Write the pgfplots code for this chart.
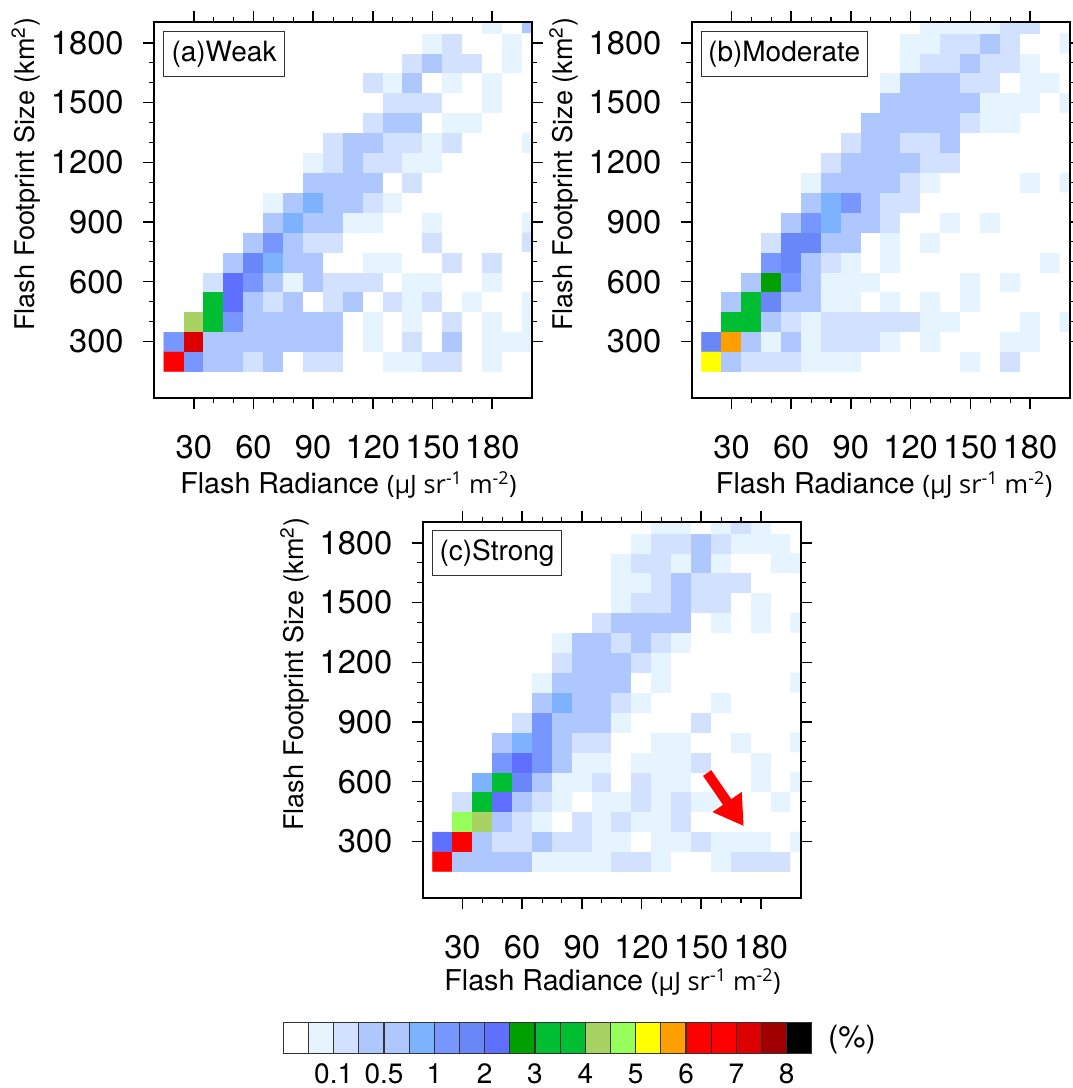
\documentclass[border=0pt]{standalone}
\usepackage{pgfplots}
\pgfplotsset{compat=1.18}
\usepackage{fontspec}
\setmainfont{TeX Gyre Heros}
\newfontfamily\unitfont{Open Sans}
\usetikzlibrary{arrows.meta}
\pgfplotsset{
  ncl/.style={
    scale only axis, width=283.5pt, height=282pt, axis on top,
    xmin=10, xmax=200, ymin=16, ymax=1905,
    xtick={30,60,...,180}, ytick={300,600,...,1800},
    minor x tick num=2, minor y tick num=2,
    tick align=outside, tick pos=both,
    major tick length=8.25pt, minor tick length=4pt,
    axis line style={line width=1.3pt},
    every tick/.append style={line width=1.1pt, black},
    every minor tick/.append style={line width=0.8pt, black},
    /pgf/number format/assume math mode=true,
    /pgf/number format/1000 sep={},
    tick label style={font=\fontsize{24.5}{27}\selectfont},
    xticklabel style={yshift=-16pt},
    yticklabel style={xshift=-11pt},
    xlabel={\fontsize{21.5}{24}\selectfont Flash Radiance {\unitfont\fontsize{19}{24}\selectfont(µJ sr\textsuperscript{-1} m\textsuperscript{-2})}},
    ylabel={\fontsize{20.3}{24}\selectfont Flash Footprint Size (km\textsuperscript{2})},
    every axis y label/.style={at={(axis description cs:-0.315,0.595)}, anchor=base, rotate=90},
    colormap={ncl}{rgb255=(255,255,255) rgb255=(230,244,255) rgb255=(210,225,255) rgb255=(174,200,255) rgb255=(174,200,255) rgb255=(125,178,255) rgb255=(120,150,255) rgb255=(106,135,248) rgb255=(95,111,255) rgb255=(0,160,0) rgb255=(0,190,50) rgb255=(0,190,50) rgb255=(168,210,100) rgb255=(150,255,90) rgb255=(255,255,0) rgb255=(255,160,0) rgb255=(255,0,0) rgb255=(255,0,0) rgb255=(220,0,0) rgb255=(160,0,0) rgb255=(0,0,0)},
    colormap access=direct,
  },
  xl/.style 2 args={every axis x label/.style={at={(axis description cs:#1,#2)}, anchor=base}},
  cellplot/.style={matrix plot*, mesh/cols=19, point meta=explicit, forget plot},
}
\definecolor{c0}{RGB}{255,255,255}\definecolor{c1}{RGB}{230,244,255}\definecolor{c2}{RGB}{210,225,255}\definecolor{c3}{RGB}{174,200,255}\definecolor{c4}{RGB}{174,200,255}\definecolor{c5}{RGB}{125,178,255}\definecolor{c6}{RGB}{120,150,255}\definecolor{c7}{RGB}{106,135,248}\definecolor{c8}{RGB}{95,111,255}\definecolor{c9}{RGB}{0,160,0}\definecolor{c10}{RGB}{0,190,50}\definecolor{c11}{RGB}{0,190,50}\definecolor{c12}{RGB}{168,210,100}\definecolor{c13}{RGB}{150,255,90}\definecolor{c14}{RGB}{255,255,0}\definecolor{c15}{RGB}{255,160,0}\definecolor{c16}{RGB}{255,0,0}\definecolor{c17}{RGB}{255,0,0}\definecolor{c18}{RGB}{220,0,0}\definecolor{c19}{RGB}{160,0,0}\definecolor{c20}{RGB}{0,0,0}
\begin{document}
\begin{tikzpicture}
\path[use as bounding box] (0pt,0pt) rectangle (804pt,816pt);
% ---------- (a)
\begin{axis}[ncl, xl={0.5146}{-0.2527}, at={(115.5pt,517.5pt)}, anchor=south west]
\addplot[cellplot] coordinates {
(20,200)[16](30,200)[6](40,200)[3](50,200)[3](60,200)[2](70,200)[3](80,200)[0](90,200)[2](100,200)[2](110,200)[0](120,200)[0](130,200)[1](140,200)[1](150,200)[2](160,200)[2](170,200)[0](180,200)[1](190,200)[0](200,200)[0]
(20,300)[6](30,300)[18](40,300)[3](50,300)[3](60,300)[3](70,300)[3](80,300)[3](90,300)[3](100,300)[3](110,300)[0](120,300)[1](130,300)[0](140,300)[2](150,300)[0](160,300)[3](170,300)[0](180,300)[1](190,300)[1](200,300)[1]
(20,400)[0](30,400)[12](40,400)[10](50,400)[6](60,400)[3](70,400)[3](80,400)[3](90,400)[3](100,400)[3](110,400)[0](120,400)[1](130,400)[0](140,400)[1](150,400)[0](160,400)[2](170,400)[0](180,400)[1](190,400)[0](200,400)[1]
(20,500)[0](30,500)[0](40,500)[10](50,500)[8](60,500)[3](70,500)[2](80,500)[3](90,500)[0](100,500)[2](110,500)[3](120,500)[0](130,500)[2](140,500)[1](150,500)[2](160,500)[0](170,500)[1](180,500)[0](190,500)[0](200,500)[1]
(20,600)[0](30,600)[0](40,600)[2](50,600)[8](60,600)[6](70,600)[3](80,600)[1](90,600)[3](100,600)[2](110,600)[2](120,600)[2](130,600)[0](140,600)[1](150,600)[1](160,600)[0](170,600)[0](180,600)[1](190,600)[0](200,600)[0]
(20,700)[0](30,700)[0](40,700)[0](50,700)[3](60,700)[7](70,700)[5](80,700)[3](90,700)[3](100,700)[0](110,700)[0](120,700)[1](130,700)[1](140,700)[0](150,700)[0](160,700)[2](170,700)[0](180,700)[2](190,700)[0](200,700)[0]
(20,800)[0](30,800)[0](40,800)[0](50,800)[0](60,800)[3](70,800)[6](80,800)[3](90,800)[2](100,800)[2](110,800)[0](120,800)[0](130,800)[0](140,800)[0](150,800)[2](160,800)[0](170,800)[0](180,800)[0](190,800)[0](200,800)[2]
(20,900)[0](30,900)[0](40,900)[0](50,900)[0](60,900)[0](70,900)[3](80,900)[5](90,900)[3](100,900)[3](110,900)[1](120,900)[1](130,900)[0](140,900)[0](150,900)[1](160,900)[0](170,900)[0](180,900)[0](190,900)[0](200,900)[1]
(20,1000)[0](30,1000)[0](40,1000)[0](50,1000)[0](60,1000)[0](70,1000)[1](80,1000)[3](90,1000)[5](100,1000)[3](110,1000)[3](120,1000)[2](130,1000)[1](140,1000)[0](150,1000)[0](160,1000)[0](170,1000)[0](180,1000)[0](190,1000)[0](200,1000)[0]
(20,1100)[0](30,1100)[0](40,1100)[0](50,1100)[0](60,1100)[0](70,1100)[0](80,1100)[0](90,1100)[3](100,1100)[3](110,1100)[3](120,1100)[3](130,1100)[0](140,1100)[2](150,1100)[0](160,1100)[0](170,1100)[0](180,1100)[0](190,1100)[0](200,1100)[0]
(20,1200)[0](30,1200)[0](40,1200)[0](50,1200)[0](60,1200)[0](70,1200)[0](80,1200)[0](90,1200)[1](100,1200)[2](110,1200)[3](120,1200)[2](130,1200)[2](140,1200)[1](150,1200)[1](160,1200)[0](170,1200)[0](180,1200)[0](190,1200)[0](200,1200)[0]
(20,1300)[0](30,1300)[0](40,1300)[0](50,1300)[0](60,1300)[0](70,1300)[0](80,1300)[0](90,1300)[0](100,1300)[2](110,1300)[3](120,1300)[3](130,1300)[2](140,1300)[2](150,1300)[1](160,1300)[2](170,1300)[0](180,1300)[0](190,1300)[0](200,1300)[1]
(20,1400)[0](30,1400)[0](40,1400)[0](50,1400)[0](60,1400)[0](70,1400)[0](80,1400)[0](90,1400)[0](100,1400)[0](110,1400)[0](120,1400)[2](130,1400)[3](140,1400)[3](150,1400)[0](160,1400)[1](170,1400)[1](180,1400)[0](190,1400)[0](200,1400)[0]
(20,1500)[0](30,1500)[0](40,1500)[0](50,1500)[0](60,1500)[0](70,1500)[0](80,1500)[0](90,1500)[0](100,1500)[0](110,1500)[0](120,1500)[0](130,1500)[2](140,1500)[2](150,1500)[2](160,1500)[0](170,1500)[0](180,1500)[1](190,1500)[0](200,1500)[0]
(20,1600)[0](30,1600)[0](40,1600)[0](50,1600)[0](60,1600)[0](70,1600)[0](80,1600)[0](90,1600)[0](100,1600)[0](110,1600)[0](120,1600)[2](130,1600)[1](140,1600)[3](150,1600)[0](160,1600)[1](170,1600)[0](180,1600)[1](190,1600)[0](200,1600)[0]
(20,1700)[0](30,1700)[0](40,1700)[0](50,1700)[0](60,1700)[0](70,1700)[0](80,1700)[0](90,1700)[0](100,1700)[0](110,1700)[0](120,1700)[0](130,1700)[0](140,1700)[2](150,1700)[3](160,1700)[2](170,1700)[2](180,1700)[0](190,1700)[1](200,1700)[0]
(20,1800)[0](30,1800)[0](40,1800)[0](50,1800)[0](60,1800)[0](70,1800)[0](80,1800)[0](90,1800)[0](100,1800)[0](110,1800)[0](120,1800)[0](130,1800)[0](140,1800)[0](150,1800)[1](160,1800)[2](170,1800)[0](180,1800)[0](190,1800)[1](200,1800)[0]
(20,1900)[0](30,1900)[0](40,1900)[0](50,1900)[0](60,1900)[0](70,1900)[0](80,1900)[0](90,1900)[0](100,1900)[0](110,1900)[0](120,1900)[0](130,1900)[0](140,1900)[0](150,1900)[0](160,1900)[0](170,1900)[0](180,1900)[1](190,1900)[0](200,1900)[3]
};
\end{axis}
% ---------- (b)
\begin{axis}[ncl, xl={0.509}{-0.2527}, at={(518.8pt,517.5pt)}, anchor=south west]
\addplot[cellplot] coordinates {
(20,200)[14](30,200)[3](40,200)[2](50,200)[2](60,200)[2](70,200)[1](80,200)[1](90,200)[1](100,200)[0](110,200)[0](120,200)[0](130,200)[0](140,200)[0](150,200)[1](160,200)[0](170,200)[2](180,200)[0](190,200)[0](200,200)[0]
(20,300)[7](30,300)[15](40,300)[3](50,300)[1](60,300)[3](70,300)[1](80,300)[2](90,300)[2](100,300)[2](110,300)[1](120,300)[0](130,300)[1](140,300)[0](150,300)[0](160,300)[0](170,300)[1](180,300)[1](190,300)[0](200,300)[0]
(20,400)[0](30,400)[10](40,400)[10](50,400)[3](60,400)[2](70,400)[1](80,400)[2](90,400)[2](100,400)[2](110,400)[2](120,400)[2](130,400)[1](140,400)[1](150,400)[0](160,400)[0](170,400)[0](180,400)[1](190,400)[0](200,400)[1]
(20,500)[0](30,500)[3](40,500)[10](50,500)[7](60,500)[3](70,500)[3](80,500)[1](90,500)[1](100,500)[0](110,500)[1](120,500)[0](130,500)[1](140,500)[0](150,500)[1](160,500)[0](170,500)[0](180,500)[0](190,500)[0](200,500)[0]
(20,600)[0](30,600)[0](40,600)[3](50,600)[9](60,600)[6](70,600)[3](80,600)[1](90,600)[1](100,600)[1](110,600)[0](120,600)[0](130,600)[0](140,600)[0](150,600)[1](160,600)[0](170,600)[1](180,600)[0](190,600)[0](200,600)[0]
(20,700)[0](30,700)[0](40,700)[0](50,700)[6](60,700)[7](70,700)[3](80,700)[2](90,700)[1](100,700)[0](110,700)[1](120,700)[0](130,700)[0](140,700)[0](150,700)[0](160,700)[0](170,700)[0](180,700)[0](190,700)[1](200,700)[0]
(20,800)[0](30,800)[0](40,800)[0](50,800)[2](60,800)[7](70,800)[7](80,800)[3](90,800)[3](100,800)[0](110,800)[1](120,800)[0](130,800)[1](140,800)[0](150,800)[0](160,800)[0](170,800)[0](180,800)[0](190,800)[0](200,800)[0]
(20,900)[0](30,900)[0](40,900)[0](50,900)[0](60,900)[3](70,900)[6](80,900)[5](90,900)[3](100,900)[3](110,900)[2](120,900)[0](130,900)[0](140,900)[1](150,900)[0](160,900)[1](170,900)[0](180,900)[0](190,900)[0](200,900)[0]
(20,1000)[0](30,1000)[0](40,1000)[0](50,1000)[0](60,1000)[0](70,1000)[3](80,1000)[5](90,1000)[6](100,1000)[3](110,1000)[2](120,1000)[2](130,1000)[0](140,1000)[0](150,1000)[0](160,1000)[0](170,1000)[0](180,1000)[0](190,1000)[0](200,1000)[0]
(20,1100)[0](30,1100)[0](40,1100)[0](50,1100)[0](60,1100)[0](70,1100)[1](80,1100)[3](90,1100)[3](100,1100)[3](110,1100)[3](120,1100)[2](130,1100)[1](140,1100)[0](150,1100)[0](160,1100)[0](170,1100)[0](180,1100)[1](190,1100)[0](200,1100)[1]
(20,1200)[0](30,1200)[0](40,1200)[0](50,1200)[0](60,1200)[0](70,1200)[0](80,1200)[2](90,1200)[3](100,1200)[3](110,1200)[3](120,1200)[3](130,1200)[2](140,1200)[2](150,1200)[0](160,1200)[0](170,1200)[0](180,1200)[0](190,1200)[0](200,1200)[0]
(20,1300)[0](30,1300)[0](40,1300)[0](50,1300)[0](60,1300)[0](70,1300)[0](80,1300)[0](90,1300)[2](100,1300)[3](110,1300)[3](120,1300)[2](130,1300)[2](140,1300)[3](150,1300)[0](160,1300)[0](170,1300)[0](180,1300)[0](190,1300)[0](200,1300)[0]
(20,1400)[0](30,1400)[0](40,1400)[0](50,1400)[0](60,1400)[0](70,1400)[0](80,1400)[0](90,1400)[0](100,1400)[3](110,1400)[3](120,1400)[3](130,1400)[3](140,1400)[3](150,1400)[2](160,1400)[1](170,1400)[1](180,1400)[0](190,1400)[0](200,1400)[0]
(20,1500)[0](30,1500)[0](40,1500)[0](50,1500)[0](60,1500)[0](70,1500)[0](80,1500)[0](90,1500)[0](100,1500)[0](110,1500)[3](120,1500)[3](130,1500)[3](140,1500)[3](150,1500)[3](160,1500)[1](170,1500)[1](180,1500)[1](190,1500)[0](200,1500)[1]
(20,1600)[0](30,1600)[0](40,1600)[0](50,1600)[0](60,1600)[0](70,1600)[0](80,1600)[0](90,1600)[0](100,1600)[0](110,1600)[1](120,1600)[3](130,1600)[3](140,1600)[3](150,1600)[2](160,1600)[2](170,1600)[0](180,1600)[1](190,1600)[1](200,1600)[0]
(20,1700)[0](30,1700)[0](40,1700)[0](50,1700)[0](60,1700)[0](70,1700)[0](80,1700)[0](90,1700)[0](100,1700)[0](110,1700)[0](120,1700)[1](130,1700)[2](140,1700)[2](150,1700)[3](160,1700)[2](170,1700)[2](180,1700)[1](190,1700)[0](200,1700)[0]
(20,1800)[0](30,1800)[0](40,1800)[0](50,1800)[0](60,1800)[0](70,1800)[0](80,1800)[0](90,1800)[0](100,1800)[0](110,1800)[0](120,1800)[1](130,1800)[1](140,1800)[2](150,1800)[2](160,1800)[3](170,1800)[2](180,1800)[0](190,1800)[0](200,1800)[1]
(20,1900)[0](30,1900)[0](40,1900)[0](50,1900)[0](60,1900)[0](70,1900)[0](80,1900)[0](90,1900)[0](100,1900)[0](110,1900)[0](120,1900)[0](130,1900)[1](140,1900)[1](150,1900)[1](160,1900)[1](170,1900)[2](180,1900)[2](190,1900)[0](200,1900)[0]
};
\end{axis}
% ---------- (c)
\begin{axis}[ncl, xl={0.5024}{-0.245}, at={(317pt,142.5pt)}, anchor=south west]
\addplot[cellplot] coordinates {
(20,200)[16](30,200)[3](40,200)[3](50,200)[3](60,200)[3](70,200)[1](80,200)[1](90,200)[1](100,200)[1](110,200)[2](120,200)[2](130,200)[1](140,200)[0](150,200)[0](160,200)[1](170,200)[2](180,200)[2](190,200)[2](200,200)[0]
(20,300)[8](30,300)[16](40,300)[3](50,300)[2](60,300)[2](70,300)[3](80,300)[2](90,300)[2](100,300)[1](110,300)[1](120,300)[0](130,300)[1](140,300)[1](150,300)[2](160,300)[1](170,300)[1](180,300)[1](190,300)[0](200,300)[1]
(20,400)[0](30,400)[13](40,400)[12](50,400)[3](60,400)[2](70,400)[1](80,400)[0](90,400)[2](100,400)[1](110,400)[2](120,400)[1](130,400)[1](140,400)[2](150,400)[0](160,400)[0](170,400)[0](180,400)[0](190,400)[0](200,400)[0]
(20,500)[0](30,500)[2](40,500)[10](50,500)[8](60,500)[3](70,500)[2](80,500)[1](90,500)[0](100,500)[1](110,500)[1](120,500)[2](130,500)[1](140,500)[2](150,500)[1](160,500)[1](170,500)[0](180,500)[0](190,500)[1](200,500)[0]
(20,600)[0](30,600)[0](40,600)[5](50,600)[10](60,600)[7](70,600)[3](80,600)[1](90,600)[1](100,600)[2](110,600)[0](120,600)[2](130,600)[1](140,600)[1](150,600)[0](160,600)[0](170,600)[0](180,600)[1](190,600)[0](200,600)[1]
(20,700)[0](30,700)[0](40,700)[0](50,700)[6](60,700)[8](70,700)[6](80,700)[3](90,700)[1](100,700)[1](110,700)[0](120,700)[1](130,700)[1](140,700)[1](150,700)[2](160,700)[0](170,700)[0](180,700)[1](190,700)[0](200,700)[0]
(20,800)[0](30,800)[0](40,800)[0](50,800)[3](60,800)[5](70,800)[6](80,800)[3](90,800)[2](100,800)[2](110,800)[0](120,800)[0](130,800)[1](140,800)[1](150,800)[0](160,800)[0](170,800)[1](180,800)[0](190,800)[0](200,800)[1]
(20,900)[0](30,900)[0](40,900)[0](50,900)[0](60,900)[2](70,900)[6](80,900)[3](90,900)[3](100,900)[3](110,900)[1](120,900)[0](130,900)[0](140,900)[0](150,900)[2](160,900)[0](170,900)[0](180,900)[0](190,900)[0](200,900)[0]
(20,1000)[0](30,1000)[0](40,1000)[0](50,1000)[0](60,1000)[0](70,1000)[3](80,1000)[5](90,1000)[3](100,1000)[3](110,1000)[2](120,1000)[1](130,1000)[0](140,1000)[0](150,1000)[0](160,1000)[1](170,1000)[0](180,1000)[0](190,1000)[0](200,1000)[0]
(20,1100)[0](30,1100)[0](40,1100)[0](50,1100)[0](60,1100)[0](70,1100)[1](80,1100)[3](90,1100)[3](100,1100)[3](110,1100)[3](120,1100)[0](130,1100)[1](140,1100)[0](150,1100)[0](160,1100)[0](170,1100)[0](180,1100)[0](190,1100)[0](200,1100)[1]
(20,1200)[0](30,1200)[0](40,1200)[0](50,1200)[0](60,1200)[0](70,1200)[0](80,1200)[2](90,1200)[3](100,1200)[3](110,1200)[3](120,1200)[2](130,1200)[1](140,1200)[0](150,1200)[0](160,1200)[0](170,1200)[0](180,1200)[0](190,1200)[0](200,1200)[0]
(20,1300)[0](30,1300)[0](40,1300)[0](50,1300)[0](60,1300)[0](70,1300)[0](80,1300)[1](90,1300)[3](100,1300)[3](110,1300)[2](120,1300)[3](130,1300)[2](140,1300)[1](150,1300)[0](160,1300)[0](170,1300)[0](180,1300)[0](190,1300)[0](200,1300)[0]
(20,1400)[0](30,1400)[0](40,1400)[0](50,1400)[0](60,1400)[0](70,1400)[0](80,1400)[0](90,1400)[0](100,1400)[2](110,1400)[3](120,1400)[3](130,1400)[3](140,1400)[3](150,1400)[0](160,1400)[1](170,1400)[0](180,1400)[1](190,1400)[0](200,1400)[1]
(20,1500)[0](30,1500)[0](40,1500)[0](50,1500)[0](60,1500)[0](70,1500)[0](80,1500)[0](90,1500)[0](100,1500)[0](110,1500)[1](120,1500)[2](130,1500)[2](140,1500)[3](150,1500)[2](160,1500)[2](170,1500)[0](180,1500)[1](190,1500)[0](200,1500)[0]
(20,1600)[0](30,1600)[0](40,1600)[0](50,1600)[0](60,1600)[0](70,1600)[0](80,1600)[0](90,1600)[0](100,1600)[0](110,1600)[1](120,1600)[1](130,1600)[2](140,1600)[3](150,1600)[2](160,1600)[2](170,1600)[2](180,1600)[0](190,1600)[0](200,1600)[0]
(20,1700)[0](30,1700)[0](40,1700)[0](50,1700)[0](60,1700)[0](70,1700)[0](80,1700)[0](90,1700)[0](100,1700)[0](110,1700)[1](120,1700)[2](130,1700)[2](140,1700)[1](150,1700)[3](160,1700)[1](170,1700)[0](180,1700)[0](190,1700)[1](200,1700)[1]
(20,1800)[0](30,1800)[0](40,1800)[0](50,1800)[0](60,1800)[0](70,1800)[0](80,1800)[0](90,1800)[0](100,1800)[0](110,1800)[0](120,1800)[1](130,1800)[2](140,1800)[2](150,1800)[3](160,1800)[2](170,1800)[1](180,1800)[1](190,1800)[1](200,1800)[0]
(20,1900)[0](30,1900)[0](40,1900)[0](50,1900)[0](60,1900)[0](70,1900)[0](80,1900)[0](90,1900)[0](100,1900)[0](110,1900)[0](120,1900)[0](130,1900)[1](140,1900)[1](150,1900)[0](160,1900)[1](170,1900)[2](180,1900)[1](190,1900)[0](200,1900)[0]
};
\addplot[red, line width=7.5pt, -{Triangle[length=22pt,width=25pt]}, forget plot] coordinates {(153,644) (171.4,377)};
\end{axis}
% ---------- panel tags
\tikzset{tag/.style={draw=black!80, line width=0.7pt, fill=white, inner sep=0pt, font=\fontsize{21}{24}\selectfont, minimum height=33.75pt}}
\node[tag, minimum width=91.3pt] at (168pt,775.5pt) {(a)Weak};
\node[tag, minimum width=124.7pt] at (588.1pt,775.5pt) {(b)Moderate};
\node[tag, minimum width=97pt] at (372.75pt,401pt) {(c)Strong};
% ---------- colour bar
\begin{axis}[at={(212.5pt,25.7pt)}, anchor=south west, scale only axis, width=396.4pt, height=23.25pt,
  xmin=0, xmax=21, ymin=0, ymax=1, axis line style={draw=none},
  xtick={2,4,...,20}, xticklabels={0.1,0.5,1,2,3,4,5,6,7,8}, ytick=\empty, major tick length=0pt,
  tick label style={font=\fontsize{21}{24}\selectfont}, xticklabel style={yshift=-4pt}, clip=false]
\pgfplotsinvokeforeach{0,...,20}{\draw[fill=c#1, draw=black!80, line width=0.9pt] (axis cs:#1,0) rectangle +(axis direction cs:1,1);}
\end{axis}
\node[font=\fontsize{23}{26}\selectfont] at (639pt,36pt) {(\%)};
\end{tikzpicture}
\end{document}
